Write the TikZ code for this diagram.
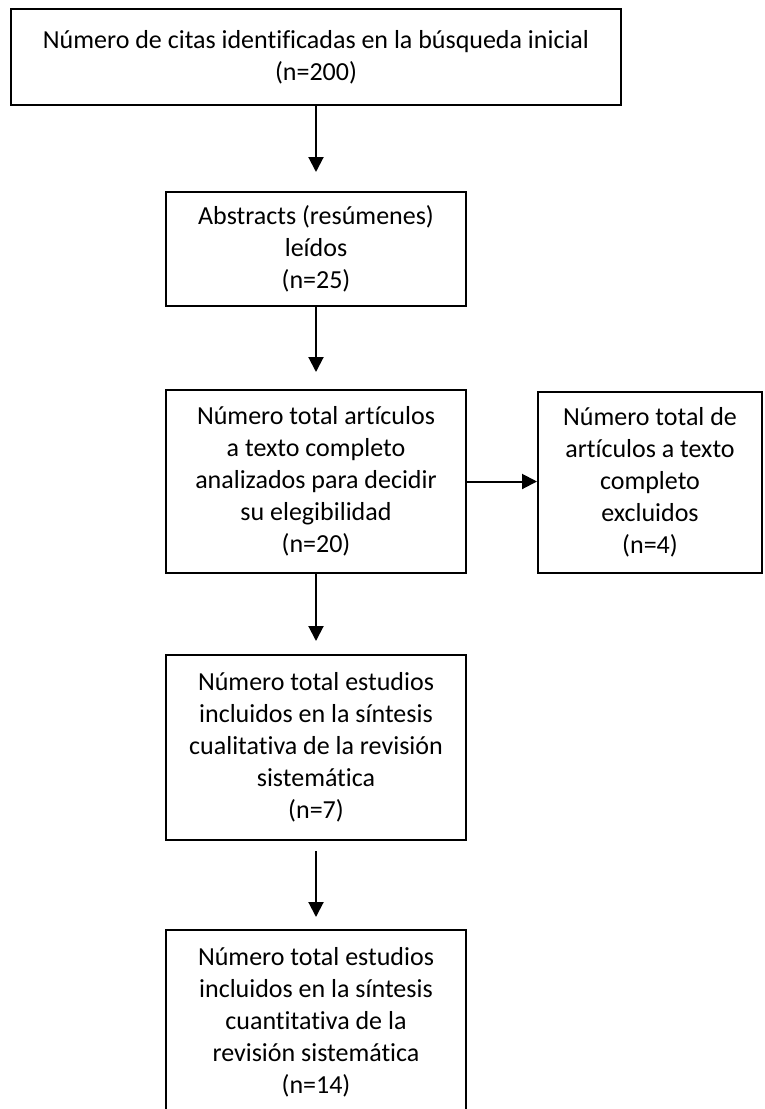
\documentclass[tikz,border=0pt]{standalone}
\usepackage{fontspec}
\setmainfont{Carlito}[Ligatures=CommonOff]
\usetikzlibrary{arrows.meta}
\begin{document}
\begin{tikzpicture}[x=1pt,y=-1pt,line width=2pt]
  \tikzstyle{box}=[draw,rectangle,align=center,inner sep=0pt,font=\fontsize{26}{32}\selectfont]
  \tikzstyle{line}=[draw,-{Triangle[width=15pt,length=15pt]}]
  \useasboundingbox (0,0) rectangle (764,1109);
  \node[box,minimum width=610pt,minimum height=96pt]  (search)    at (316,57)     {Número de citas identificadas en la búsqueda inicial\\(n=200)};
  \node[box,minimum width=300pt,minimum height=114pt] (abstracts) at (316,249)    {Abstracts (resúmenes)\\leídos\\(n=25)};
  \node[box,minimum width=300pt,minimum height=183pt] (fulltext)  at (316,481.5)  {Número total artículos\\a texto completo\\analizados para decidir\\su elegibilidad\\(n=20)};
  \node[box,minimum width=224pt,minimum height=181pt] (excluded)  at (650,482.5)  {Número total de\\artículos a texto\\completo\\excluidos\\(n=4)};
  \node[box,minimum width=300pt,minimum height=185pt] (qualit)    at (316,747.5)  {Número total estudios\\incluidos en la síntesis\\cualitativa de la revisión\\sistemática\\(n=7)};
  \node[box,minimum width=300pt,minimum height=184pt] (quantit)   at (316,1022)   {Número total estudios\\incluidos en la síntesis\\cuantitativa de la\\revisión sistemática\\(n=14)};
  % arrows
  \path[line,shorten >=19pt] (search) -- (abstracts);
  \path[line,shorten >=17pt] (abstracts) -- (fulltext);
  \path[line] (fulltext.east) -- (excluded.west |- fulltext.east);
  \path[line,shorten >=13pt] (fulltext) -- (qualit);
  \path[line,shorten <=10pt,shorten >=12pt] (qualit) -- (quantit);
\end{tikzpicture}
\end{document}
